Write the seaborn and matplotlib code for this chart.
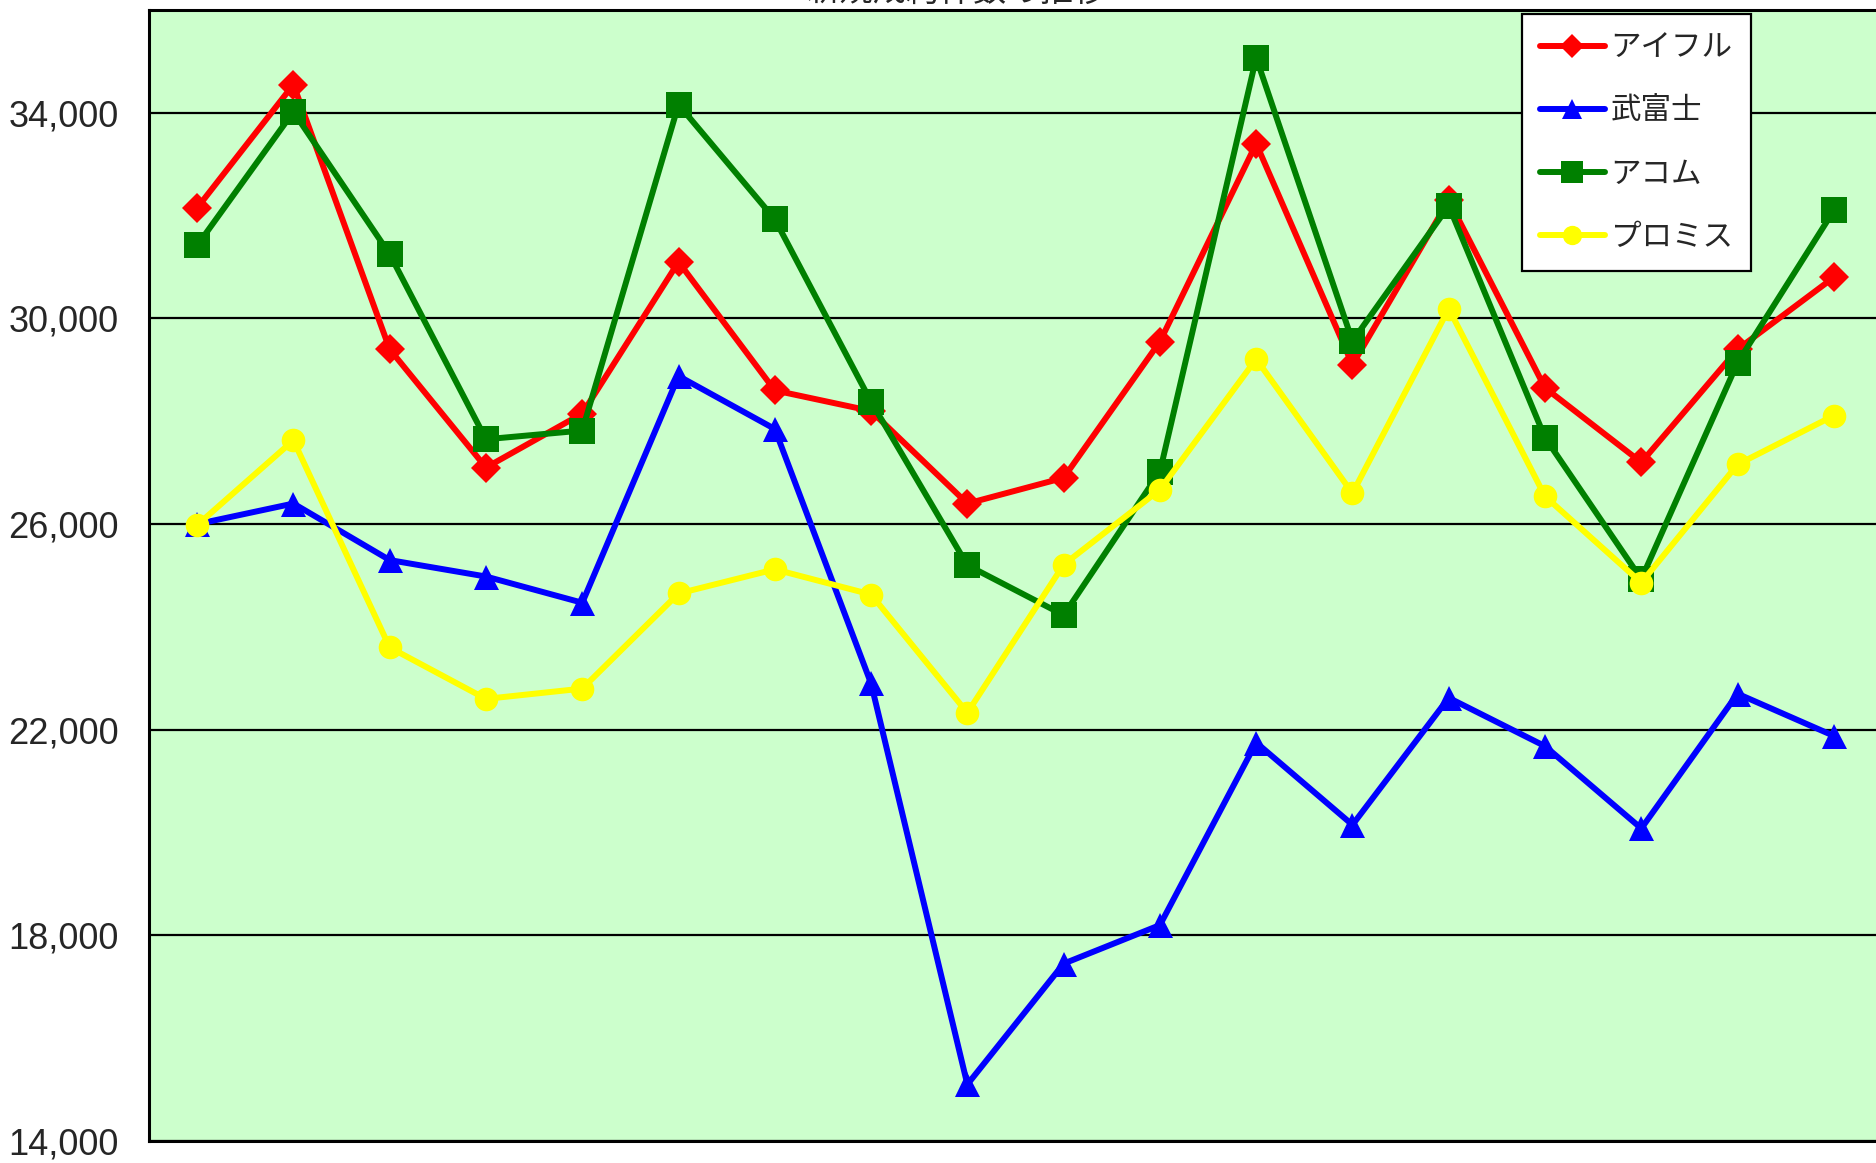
import matplotlib
matplotlib.use("Agg")
import matplotlib.pyplot as plt
import matplotlib.ticker as mticker
import seaborn as sns
import pandas as pd
import numpy as np

# monthly values (18 periods, no x labels shown)
periods = list(range(18))
aiful = [32150, 34550, 29400, 27100, 28150, 31100, 28600, 28200, 26400,
         26900, 29550, 33400, 29100, 32300, 28650, 27200, 29400, 30800]
takefuji = [26000, 26400, 25300, 24980, 24470, 28880, 27850, 22900, 15100,
            17450, 18200, 21750, 20150, 22620, 21680, 20080, 22700, 21880]
acom = [31420, 34020, 31250, 27650, 27820, 34160, 31930, 28380, 25200,
        24230, 27020, 35070, 29560, 32190, 27680, 24930, 29140, 32100]
promise = [25980, 27630, 23600, 22600, 22800, 24650, 25120, 24630, 22330,
           25210, 26670, 29210, 26600, 30190, 26540, 24860, 27160, 28110]

names = ["アイフル", "武富士", "アコム", "プロミス"]
series = [aiful, takefuji, acom, promise]
colors = ["#FF0000", "#0000FF", "#008000", "#FFFF00"]
markers = ["D", "^", "s", "o"]
msizes = [15.5, 18, 18.5, 17]

y_ticks = [14000, 18000, 22000, 26000, 30000, 34000]
title = "新規成約件数の推移"

sns.set_style("white")
plt.rcParams['font.family'] = ['Noto Sans CJK JP', 'DejaVu Sans']

fig = plt.figure(figsize=(18.76, 11.63), dpi=100)
ax = fig.add_axes([149 / 1876, 1 - 1141 / 1163, 1733 / 1876, 1131 / 1163])
ax.set_facecolor("#CCFFCC")

for name, vals, c, m, ms in zip(names, series, colors, markers, msizes):
    df = pd.DataFrame({"period": periods, "value": vals})
    sns.lineplot(data=df, x="period", y="value", ax=ax, color=c, linewidth=4.3,
                 marker=m, markersize=ms, markeredgewidth=0, markeredgecolor=c,
                 label=name, legend=False, zorder=3)

ax.set_xlim(-0.5, len(periods) - 0.5)
ax.set_ylim(14000, 36000)
ax.set_xlabel("")
ax.set_ylabel("")

ax.set_yticks(y_ticks)
ax.yaxis.set_major_formatter(mticker.FuncFormatter(lambda v, p: f"{int(v):,}"))
ax.tick_params(axis="y", length=0, pad=22, labelsize=26)
for lab in ax.get_yticklabels():
    lab.set_family("Liberation Sans")

ax.set_xticks(np.arange(0.5, len(periods) - 1, 1.0))
ax.set_xticklabels([])
ax.tick_params(axis="x", direction="in", length=8, width=1.5, color="black")

ax.yaxis.grid(True, color="black", linewidth=1.6)
ax.set_axisbelow(True)
for s in ["left", "bottom", "top"]:
    ax.spines[s].set_color("black")
    ax.spines[s].set_linewidth(2.2)
ax.spines["right"].set_visible(False)

handles, labels = ax.get_legend_handles_labels()
leg = ax.legend(handles, labels, loc="upper right",
                bbox_to_anchor=(1751 / 1876, 1 - 14 / 1163),
                bbox_transform=fig.transFigure, fontsize=22, frameon=True,
                fancybox=False, edgecolor="black", facecolor="white",
                framealpha=1, handlelength=2.1, handletextpad=0.2,
                labelspacing=1.05, borderpad=0.6, borderaxespad=0,
                markerscale=0.82)
leg.get_frame().set_linewidth(1.6)
leg.set_zorder(5)

# title sits above the canvas, only its lower edge shows
fig.text(956 / 1876, 1 - 1 / 1163, title, ha="center", va="baseline", fontsize=24)

fig.savefig("out.png", dpi=100, facecolor="white")
